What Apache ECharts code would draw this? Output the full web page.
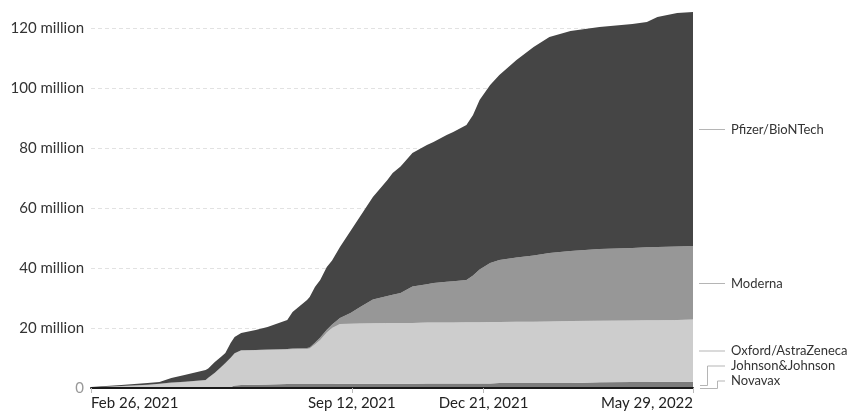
<!DOCTYPE html>
<html>
<head>
<meta charset="utf-8">
<title>Vaccine doses by manufacturer</title>
<script src="https://cdn.jsdelivr.net/npm/echarts@6/dist/echarts.min.js"></script>
<style>
  html, body { margin: 0; padding: 0; background: #fff; }
  #chart { width: 854px; height: 413px; }
</style>
</head>
<body>
<div id="chart"></div>
<script>
// dates of the samples
const dates = ['2021-02-26','2021-03-21','2021-04-10','2021-04-19','2021-04-28','2021-05-08','2021-05-24','2021-05-26','2021-05-31','2021-06-05',
  '2021-06-08','2021-06-12','2021-06-15','2021-06-20','2021-07-01','2021-07-10','2021-07-25','2021-07-29','2021-08-09','2021-08-11',
  '2021-08-15','2021-08-19','2021-08-24','2021-08-28','2021-09-03','2021-09-11','2021-09-18','2021-09-28','2021-10-09','2021-10-13',
  '2021-10-19','2021-10-28','2021-11-08','2021-11-13','2021-11-23','2021-11-28','2021-12-08','2021-12-13','2021-12-18','2021-12-26',
  '2022-01-02','2022-01-15','2022-01-28','2022-02-09','2022-02-25','2022-03-19','2022-04-13','2022-04-24','2022-05-02','2022-05-17',
  '2022-05-29'];

// doses per manufacturer, millions (each band's own thickness)
const novavax = [0,0,0,0,0,0,0,0,0,0, 0,0,0,0,0,0,0,0,0,0, 0,0,0,0,0,0,0,0,0,0,
  0,0,0,0,0,0,0,0,0,0, 0.1,0.1,0.1,0.1,0.2,0.2,0.2,0.2,0.2,0.2, 0.2];
const johnson = [0,0,0,0,0,0,0,0,0,0, 0,0.3,0.8,1.0,1.1,1.2,1.3,1.3,1.3,1.3, 1.3,1.3,1.3,1.3,1.4,1.4,1.4,1.4,1.4,1.4,
  1.4,1.4,1.5,1.5,1.5,1.5,1.5,1.5,1.5,1.5, 1.6,1.6,1.6,1.6,1.5,1.7,1.8,1.8,1.9,1.9, 1.9];
const oxford = [0.1,0.6,1.0,1.3,1.7,2.0,2.6,3.3,5.0,7.0, 8.2,9.7,10.7,11.5,11.5,11.5,11.5,11.6,11.7,11.9,
  13.2,14.7,17.2,18.7,19.9,20.0,20.1,20.2,20.3,20.3, 20.3,20.3,20.3,20.3,20.3,20.3,20.4,20.4,20.4,20.5,
  20.3,20.4,20.4,20.5,20.6,20.5,20.5,20.6,20.5,20.6, 20.7];
const moderna = [0.1,0.1,0.1,0.1,0.1,0.1,0.1,0.1,0.1,0.1, 0.1,0.1,0.1,0.1,0.1,0.1,0.2,0.3,0.3,0.3,
  0.6,0.8,0.9,1.2,2.0,3.6,5.4,7.9,9.0,9.4, 10.0,12.1,12.8,13.2,13.6,13.8,14.1,15.6,17.6,19.7,
  20.7,21.4,22.1,22.8,23.4,23.9,24.2,24.3,24.4,24.5, 24.5];
const pfizer = [0.1,0.3,0.6,0.6,1.5,2.2,3.3,3.1,3.6,3.4, 3.4,4.9,5.4,5.7,6.6,7.5,9.7,12.1,16.0,16.8,
  18.6,19.2,20.9,21.3,23.7,27.3,30.1,34.2,38.6,40.6, 42.1,44.5,46.4,47.0,48.9,49.7,51.7,53.5,56.5,59.3,
  61.6,65.8,69.5,72.0,73.3,74.0,74.6,75.1,76.7,77.8, 78.0];

const names = ['Novavax', 'Johnson&Johnson', 'Oxford/AstraZeneca', 'Moderna', 'Pfizer/BioNTech'];
const values = [novavax, johnson, oxford, moderna, pfizer];
const colors = ['#1e1e1e', '#7c7c7c', '#cdcdcd', '#979797', '#454545'];

// x axis labels and y axis ticks
const tickDates = ['2021-02-26', '2021-09-12', '2021-12-21', '2022-05-29'];
const yTicks = [0, 20, 40, 60, 80, 100, 120];
const months = ['Jan','Feb','Mar','Apr','May','Jun','Jul','Aug','Sep','Oct','Nov','Dec'];

const toTime = s => {
  const p = s.split('-').map(Number);
  return new Date(p[0], p[1] - 1, p[2]).getTime();
};

const chart = echarts.init(document.getElementById('chart'));

chart.setOption({
  animation: false,
  textStyle: { fontFamily: 'Lato' },
  grid: { left: 91, right: 161, top: 10, bottom: 25 },
  xAxis: {
    type: 'value',
    min: toTime(dates[0]),
    max: toTime(dates[dates.length - 1]),
    z: 5,
    axisLine: { lineStyle: { color: '#1a1a1a', width: 2 } },
    axisTick: { customValues: tickDates.map(toTime), length: 5, lineStyle: { color: '#bbb' } },
    splitLine: { show: false },
    axisLabel: {
      customValues: tickDates.map(toTime),
      fontSize: 15,
      color: '#222',
      margin: 8,
      alignMinLabel: 'left',
      alignMaxLabel: 'right',
      formatter: v => {
        const d = new Date(v);
        return months[d.getMonth()] + ' ' + d.getDate() + ', ' + d.getFullYear();
      }
    }
  },
  yAxis: {
    type: 'value',
    min: yTicks[0],
    max: 126,
    interval: 20,
    axisLine: { show: false },
    axisTick: { show: false },
    splitLine: { showMaxLine: false, lineStyle: { color: '#e2e2e2', type: [4, 3] } },
    axisLabel: {
      showMaxLabel: false,
      fontSize: 15,
      color: '#333',
      margin: 7,
      formatter: v => v === 0 ? '{z|0}' : v + ' million',
      rich: { z: { color: '#999', fontSize: 15 } }
    }
  },
  // value first so the stack sums the doses, not the dates
  series: values.map((arr, i) => ({
    name: names[i],
    type: 'line',
    stack: 'doses',
    showSymbol: false,
    symbol: 'none',
    encode: { x: 1, y: 0 },
    lineStyle: { width: 0 },
    areaStyle: { color: colors[i], opacity: 1 },
    itemStyle: { color: colors[i] },
    data: arr.map((v, j) => [v, toTime(dates[j])])
  }))
});

// labels at the right, placed at the middle of each band, pushed up when they collide
function drawLabels() {
  const last = dates.length - 1;
  const t = toTime(dates[last]);
  let base = 0;
  const anchors = values.map(arr => {
    const mid = base + arr[last] / 2;
    base += arr[last];
    return chart.convertToPixel({ gridIndex: 0 }, [t, mid]);
  });
  const x0 = anchors[0][0] + 7;
  const x1 = x0 + 25;
  const elbow = [17, 7];
  let limit = 381;
  const els = [];
  anchors.forEach((p, i) => {
    const ay = Math.round(p[1]) + 0.5;
    const ly = Math.min(ay, limit);
    limit = ly - 15;
    let pts;
    if (ay - ly > 1) {
      const ex = x0 + (elbow[i] || 10) + 0.5;
      pts = [[x0, ay], [ex, ay], [ex, ly], [x1, ly]];
    } else {
      pts = [[x0 - 1, ly], [x1, ly]];
    }
    els.push({
      type: 'polyline',
      shape: { points: pts },
      style: { stroke: '#b5b5b5', lineWidth: 1, fill: null },
      z: 10
    });
    els.push({
      type: 'text',
      x: x1 + 6,
      y: ly,
      style: { text: names[i], fill: '#333', font: '13px Lato', verticalAlign: 'middle' },
      z: 10
    });
  });
  chart.setOption({ graphic: els });
}
drawLabels();
</script>
</body>
</html>
